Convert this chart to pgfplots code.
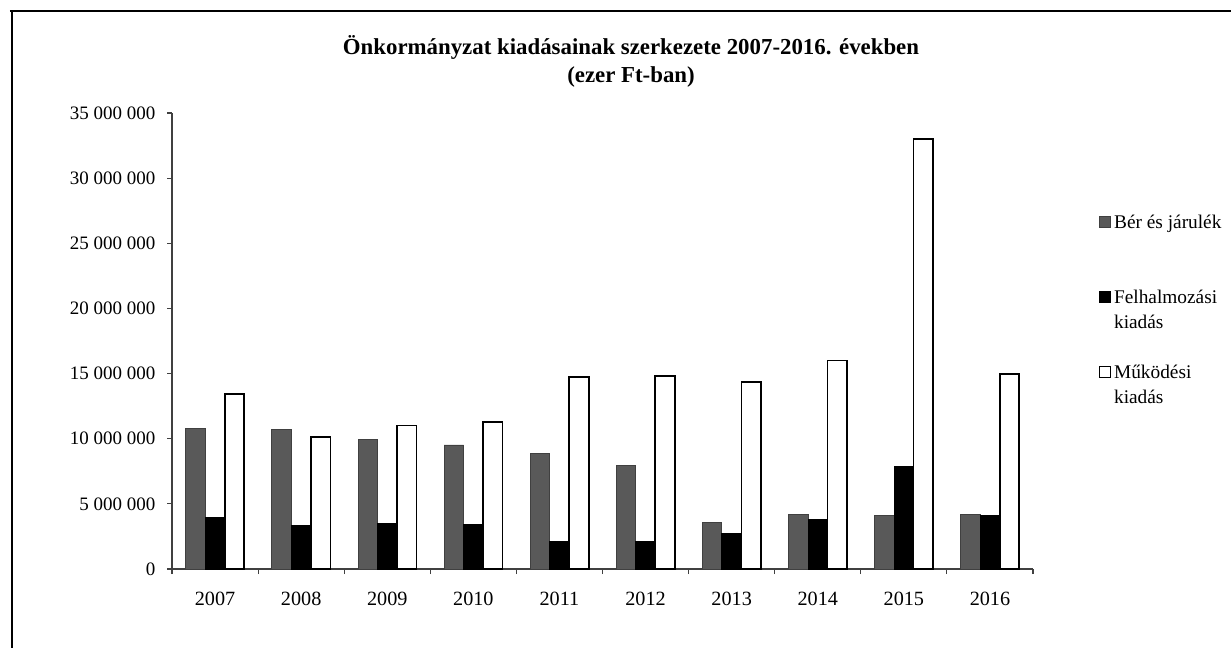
\documentclass[border=0pt]{standalone}
\usepackage{fontspec}
\setmainfont{Liberation Serif}
\usepackage{pgfplots}
\usepackage{pgfplotstable}
\pgfplotsset{compat=1.18}

% kiadások, ezer Ft
\pgfplotstableread{
idx ev   ber      felh    mukodes
0   2007 10790000 3950000 13440000
1   2008 10690000 3320000 10150000
2   2009 9920000  3490000 11020000
3   2010 9520000  3390000 11280000
4   2011 8900000  2140000 14720000
5   2012 7980000  2120000 14800000
6   2013 3570000  2760000 14350000
7   2014 4210000  3780000 16000000
8   2015 4100000  7860000 33000000
9   2016 4210000  4080000 14950000
}\kiadasok

\pgfplotsset{
  sqlegend/.style={legend image code/.code={
    \draw[##1, line width=0.6pt] (0cm,0.02cm) rectangle (0.22cm,0.24cm);}},
}

\begin{document}
\begin{tikzpicture}
\path[use as bounding box] (0,0) rectangle (24.62,12.96);
% keret
\draw[line width=1.6pt] (0.24,0) -- (0.24,12.76);
\draw[line width=1pt] (0.2,12.74) -- (24.62,12.74);

\node[align=center, font=\bfseries\fontsize{13}{15.9}\selectfont] at (12.62,11.74)
  {Önkormányzat kiadásainak szerkezete 2007-2016. években\\(ezer Ft-ban)};

\begin{axis}[
    at={(3.44cm,1.58cm)}, anchor=south west,
    scale only axis,
    width=17.22cm, height=9.12cm,
    xmin=-0.5, xmax=9.5,
    ymin=0, ymax=35000000,
    axis x line*=bottom, axis y line*=left,
    axis line style={black!75, line width=0.6pt},
    tick style={black!75, line width=0.6pt},
    tick align=outside,
    major tick length=0.1cm, minor tick length=0.1cm,
    xtick={0,...,9},
    xticklabels from table={\kiadasok}{ev},
    major x tick style={draw=none},
    minor xtick={-0.5,0.5,...,9.5},
    ytick={0,5000000,10000000,15000000,20000000,25000000,30000000,35000000},
    yticklabels={0,{5 000 000},{10 000 000},{15 000 000},{20 000 000},{25 000 000},{30 000 000},{35 000 000}},
    scaled y ticks=false,
    yticklabel style={font=\fontsize{10.8}{13}\selectfont, xshift=-0.11cm},
    xticklabel style={font=\fontsize{11.5}{13.5}\selectfont, yshift=-0.24cm},
    legend style={
        at={(1.0767,0.7818)}, anchor=north west,
        draw=none, fill=none, inner sep=0pt, outer sep=0pt,
        row sep=0pt, column sep=0.06cm,
        font=\fontsize{11}{13}\selectfont,
        nodes={inner sep=0pt, text height=0.32cm, text depth=0.18cm, anchor=base west},
    },
]

\addplot[ybar, bar width=0.39cm, bar shift=-0.39cm, fill=black!65, draw=black!75, line width=0.5pt, sqlegend]
    table[x=idx, y=ber] {\kiadasok};
\addlegendentry{Bér és járulék}
\addlegendimage{empty legend}
\addlegendentry{}
\addlegendimage{empty legend}
\addlegendentry{}

\addplot[ybar, bar width=0.39cm, bar shift=0cm, fill=black, draw=black, line width=0.5pt, sqlegend]
    table[x=idx, y=felh] {\kiadasok};
\addlegendentry{Felhalmozási}
\addlegendimage{empty legend}
\addlegendentry{kiadás}
\addlegendimage{empty legend}
\addlegendentry{}

\addplot[ybar, bar width=0.39cm, bar shift=0.39cm, fill=white, draw=black, line width=1pt, sqlegend]
    table[x=idx, y=mukodes] {\kiadasok};
\addlegendentry{Működési}
\addlegendimage{empty legend}
\addlegendentry{kiadás}

\end{axis}
\end{tikzpicture}
\end{document}
